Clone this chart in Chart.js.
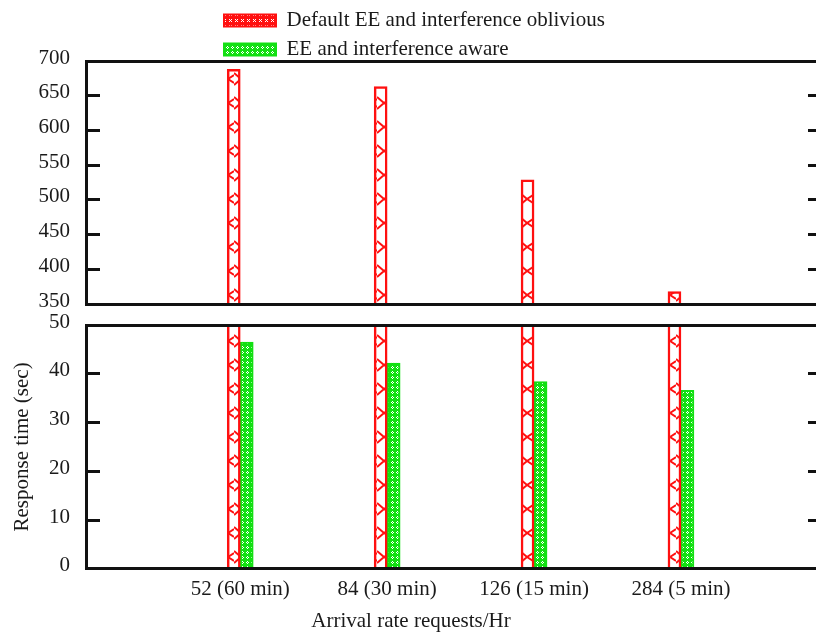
<!DOCTYPE html>
<html>
<head>
<meta charset="utf-8">
<script src="https://cdn.jsdelivr.net/npm/chart.js@4.4.1/dist/chart.umd.min.js"></script>
<style>
  html, body { margin: 0; padding: 0; background: #fff; }
  #wrap { position: relative; width: 816px; height: 634px; overflow: hidden; }
  #upper { position: absolute; left: 0; top: 0; }
  #lower { position: absolute; left: 0; top: 310px; }
</style>
</head>
<body>
<div id="wrap">
  <canvas id="upper" width="822" height="310"></canvas>
  <canvas id="lower" width="822" height="324"></canvas>
</div>
<script>
// values
const categories = ['52 (60 min)', '84 (30 min)', '126 (15 min)', '284 (5 min)'];
const seriesLabels = ['Default EE and interference oblivious', 'EE and interference aware'];
const obliviousTimes = [688, 663, 529, 368];
const awareTimes = [46.5, 42.2, 38.4, 36.6];
const upperTicks = [350, 400, 450, 500, 550, 600, 650, 700];
const lowerTicks = [0, 10, 20, 30, 40, 50];

const RED = '#ff1010';
const GREEN = '#12e012';
const FRAME = '#111';
const TEXT = '#1a1a1a';

Chart.defaults.font.family = "'Liberation Serif', 'Times New Roman', serif";
Chart.defaults.font.size = 21;
Chart.defaults.color = TEXT;

const makePattern = (w, h, draw) => {
    const tile = document.createElement('canvas');
    tile.width = w;
    tile.height = h;
    const ctx = tile.getContext('2d');
    draw(ctx);
    return ctx.createPattern(tile, 'repeat');
};

// red bars: white with little triangles
const redHatch = makePattern(13, 24, ctx => {
    ctx.fillStyle = '#fff';
    ctx.fillRect(0, 0, 13, 24);
    ctx.strokeStyle = RED;
    ctx.lineWidth = 2;
    ctx.beginPath();
    ctx.moveTo(0, 1); ctx.lineTo(7, 7); ctx.lineTo(0, 13);
    ctx.moveTo(7, 7); ctx.lineTo(13, 3);
    ctx.moveTo(7, 7); ctx.lineTo(13, 11);
    ctx.stroke();
});

// green bars: green with small white rings
const greenDots = makePattern(5, 5, ctx => {
    ctx.fillStyle = GREEN;
    ctx.fillRect(0, 0, 5, 5);
    ctx.fillStyle = '#fff';
    ctx.fillRect(2, 1, 1, 1);
    ctx.fillRect(1, 2, 1, 1);
    ctx.fillRect(3, 2, 1, 1);
    ctx.fillRect(2, 3, 1, 1);
});

// legend swatch for the red series is denser: red with white crosses
const redSwatch = makePattern(6, 6, ctx => {
    ctx.fillStyle = RED;
    ctx.fillRect(0, 0, 6, 6);
    ctx.fillStyle = '#fff';
    ctx.fillRect(1, 1, 1, 1);
    ctx.fillRect(3, 1, 1, 1);
    ctx.fillRect(2, 2, 1, 1);
    ctx.fillRect(1, 3, 1, 1);
    ctx.fillRect(3, 3, 1, 1);
});
const legendFills = [redSwatch, greenDots];

const toPoints = values => values.map((v, i) => ({ x: i + 1, y: v }));

const zeroPad = s => {
    s.paddingTop = 0;
    s.paddingBottom = 0;
    s.paddingLeft = 0;
    s.paddingRight = 0;
};

// put the two legend rows under each other, left aligned
const legendPlace = {
    id: 'legendPlace',
    afterUpdate(chart) {
        if (!chart.legend) return;
        chart.legend.left = 216;
        chart.legend.top = 2;
    }
};

const makeChart = (id, tickValues, isLower) => {
    const lo = tickValues[0];
    const hi = tickValues[tickValues.length - 1];
    const setTicks = s => { s.ticks = tickValues.map(v => ({ value: v })); };
    const xMin = -0.05;
    const xMax = 4.96;

    return new Chart(document.getElementById(id), {
        type: 'bar',
        data: {
            datasets: [{
                label: seriesLabels[0],
                data: toPoints(obliviousTimes),
                backgroundColor: redHatch,
                borderColor: RED,
                borderWidth: 2.5,
                barThickness: 13,
                clip: 0,
            }, {
                label: seriesLabels[1],
                data: toPoints(awareTimes),
                backgroundColor: greenDots,
                borderColor: GREEN,
                borderWidth: 2,
                barThickness: 13,
                clip: 0,
            }],
        },
        options: {
            responsive: false,
            animation: false,
            layout: {
                padding: isLower ? { top: 15, bottom: 0, left: 0, right: 0 } : { top: 22, bottom: 6, left: 0, right: 0 },
            },
            plugins: {
                tooltip: { enabled: false },
                title: {
                    display: isLower,
                    position: 'bottom',
                    text: 'Arrival rate requests/Hr',
                    color: TEXT,
                    font: { size: 21, weight: 'normal' },
                    padding: 0,
                },
                legend: {
                    display: !isLower,
                    position: 'top',
                    align: 'start',
                    labels: {
                        boxWidth: 52,
                        boxHeight: 12,
                        padding: 8,
                        color: TEXT,
                        generateLabels: chart => Chart.defaults.plugins.legend.labels.generateLabels(chart)
                            .map((item, i) => ({ ...item, fillStyle: legendFills[i], lineWidth: 2 })),
                    },
                },
            },
            scales: {
                x: {
                    type: 'linear',
                    position: 'bottom',
                    offset: false,
                    min: xMin,
                    max: xMax,
                    afterBuildTicks: s => { s.ticks = categories.map((c, i) => ({ value: i + 1 })); },
                    ticks: {
                        display: isLower,
                        callback: v => categories[v - 1],
                        padding: 8,
                        maxRotation: 0,
                        autoSkip: false,
                    },
                    grid: { drawOnChartArea: false, drawTicks: false },
                    border: { width: 3, color: FRAME, z: 1 },
                    afterFit: s => { s.height = isLower ? 40 : 0; zeroPad(s); },
                },
                xTop: {
                    type: 'linear',
                    position: 'top',
                    offset: false,
                    min: xMin,
                    max: xMax,
                    ticks: { display: false },
                    grid: { drawOnChartArea: false, drawTicks: false },
                    border: { width: 3, color: FRAME, z: 1 },
                    afterFit: s => { s.height = 0; zeroPad(s); },
                },
                y: {
                    position: 'left',
                    min: lo,
                    max: hi,
                    afterBuildTicks: setTicks,
                    ticks: { padding: 30, labelOffset: -3, autoSkip: false },
                    grid: { drawOnChartArea: false, tickLength: -14, lineWidth: 3, color: FRAME },
                    border: { width: 3, color: FRAME, z: 1 },
                    title: {
                        display: isLower,
                        text: 'Response time (sec)',
                        padding: { top: 10, bottom: 0 },
                    },
                    afterFit: s => { s.width = 86; zeroPad(s); },
                },
                yRight: {
                    position: 'right',
                    min: lo,
                    max: hi,
                    afterBuildTicks: setTicks,
                    ticks: { display: false },
                    grid: { drawOnChartArea: false, tickLength: -14, lineWidth: 3, color: FRAME },
                    border: { width: 3, color: FRAME, z: 1 },
                    afterFit: s => { s.width = 0; zeroPad(s); },
                },
            },
        },
        plugins: isLower ? [] : [legendPlace],
    });
};

makeChart('upper', upperTicks, false);
makeChart('lower', lowerTicks, true);
</script>
</body>
</html>
